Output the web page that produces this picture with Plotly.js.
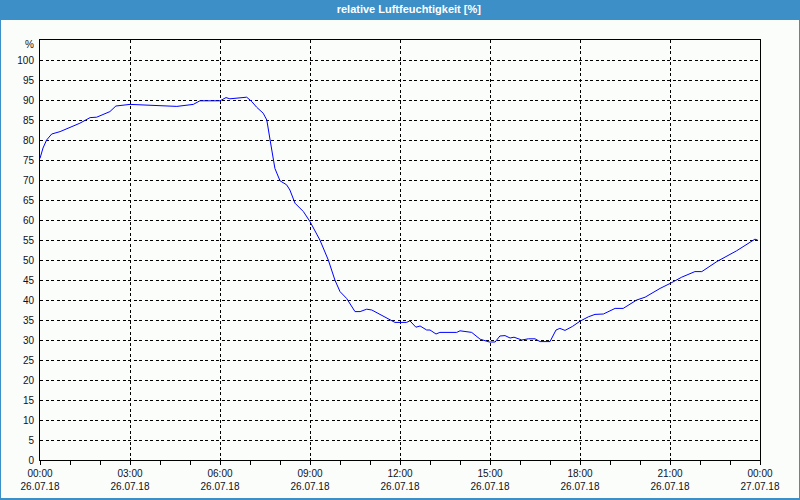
<!DOCTYPE html>
<html>
<head>
<meta charset="utf-8">
<script src="https://cdn.plot.ly/plotly-3.0.1.min.js"></script>
<style>html,body{margin:0;padding:0;background:#fbfdfb;}#chart{width:800px;height:500px;}</style>
</head>
<body>
<div id="chart"></div>
<script>
// Time of day in hours (26.07.18 00:00 = 0)
const hours = [0, 0.1, 0.22, 0.39, 0.67, 1.0, 1.33, 1.67, 1.89, 2.33, 2.53, 3.0, 3.44, 4.11, 4.56, 5.11, 5.33, 6.0, 6.2, 6.33, 6.89, 7.06, 7.22, 7.44, 7.56, 7.67, 7.83, 8.0, 8.22, 8.33, 8.5, 8.78, 9.0, 9.33, 9.61, 9.83, 10.0, 10.22, 10.5, 10.67, 10.89, 11.06, 11.44, 11.83, 12.22, 12.33, 12.53, 12.67, 12.89, 13.0, 13.2, 13.33, 13.89, 14.0, 14.39, 14.67, 14.98, 15.17, 15.33, 15.5, 15.67, 15.8, 16.06, 16.28, 16.5, 16.67, 17.0, 17.2, 17.33, 17.5, 17.75, 18.0, 18.28, 18.5, 18.78, 19.17, 19.44, 19.89, 20.17, 20.67, 21.02, 21.39, 21.83, 22.06, 22.56, 23.22, 23.83, 23.92];
// Relative humidity in %
const humidity = [75.4, 78, 80, 81.5, 82.1, 83.1, 84.2, 85.6, 85.7, 87.1, 88.5, 88.9, 88.8, 88.6, 88.4, 88.9, 89.8, 89.8, 90.6, 90.3, 90.7, 89.6, 88.2, 86.7, 85, 80, 72.9, 69.8, 68.8, 67.5, 64.2, 62.1, 59.6, 55, 50, 45, 42.1, 40.4, 37.1, 37.1, 37.7, 37.5, 36, 34.4, 34.4, 34.8, 33.2, 33.5, 32.5, 32.5, 31.5, 31.9, 31.9, 32.3, 31.9, 30.2, 29.5, 29.5, 31, 31.1, 30.5, 30.7, 30, 30.3, 30.3, 29.6, 29.6, 32.5, 32.9, 32.4, 33.4, 34.7, 35.8, 36.4, 36.5, 37.9, 37.9, 40, 40.7, 42.9, 44.2, 45.7, 47.1, 47.1, 49.6, 52.3, 55.2, 55];
// X tick positions and labels
const xTickVals = [0, 3, 6, 9, 12, 15, 18, 21, 24];
const xTickTimes = ["00:00", "03:00", "06:00", "09:00", "12:00", "15:00", "18:00", "21:00", "00:00"];
const xTickDates = ["26.07.18", "26.07.18", "26.07.18", "26.07.18", "26.07.18", "26.07.18", "26.07.18", "26.07.18", "27.07.18"];
const yTickVals = [0, 5, 10, 15, 20, 25, 30, 35, 40, 45, 50, 55, 60, 65, 70, 75, 80, 85, 90, 95, 100];
const chartTitle = "relative Luftfeuchtigkeit [%]";
const unitLabel = "%";

const bg = "#fbfdfb";
const blue = "#3c8fc7";
const tickFont = {family: "Liberation Sans, Arial, sans-serif", size: 10, color: "#101020"};

const trace = {
  x: hours, y: humidity, type: "scatter", mode: "lines",
  line: {color: "#0000ff", width: 1}, hoverinfo: "skip"
};

const layout = {
  width: 800, height: 500,
  margin: {l: 40, r: 40, t: 40, b: 40},
  paper_bgcolor: blue, plot_bgcolor: bg,
  showlegend: false,
  title: {
    text: chartTitle, x: 0.511, xanchor: "center", xref: "container",
    y: 0.981, yanchor: "middle", yref: "container",
    font: {family: "Liberation Sans, Arial, sans-serif", size: 11, color: "#ffffff", weight: "bold"}
  },
  xaxis: {
    range: [0, 24], tickmode: "array", tickvals: xTickVals,
    ticktext: xTickTimes.map((t, i) => t + "<br>" + xTickDates[i]),
    ticks: "outside", ticklen: 4, tickcolor: "#000", tickwidth: 1,
    minor: {dtick: 1, ticks: "outside", ticklen: 4, tickcolor: "#000", tickwidth: 1, showgrid: false},
    showgrid: true, gridcolor: "#000", gridwidth: 1, griddash: "3px,2.5px",
    showline: true, linecolor: "#000", linewidth: 1, mirror: true,
    zeroline: false, tickfont: tickFont, fixedrange: true
  },
  yaxis: {
    range: [0, 105], tickmode: "array", tickvals: yTickVals,
    ticks: "", ticklabelstandoff: 3,
    showgrid: true, gridcolor: "#000", gridwidth: 1, griddash: "3px,2.5px",
    showline: true, linecolor: "#000", linewidth: 1, mirror: true,
    zeroline: false, tickfont: tickFont, fixedrange: true
  },
  shapes: [{
    type: "rect", xref: "paper", yref: "paper", layer: "below",
    x0: (1 - 40) / 720, x1: (799 - 40) / 720,
    y0: (460 - 498) / 420, y1: (460 - 20) / 420,
    fillcolor: bg, line: {width: 0}
  }],
  annotations: [{
    text: unitLabel, xref: "paper", yref: "y", x: -4 / 720, y: 104,
    xanchor: "right", yanchor: "middle", showarrow: false, font: tickFont
  }]
};

Plotly.newPlot("chart", [trace], layout, {displayModeBar: false, staticPlot: true});
</script>
</body>
</html>
